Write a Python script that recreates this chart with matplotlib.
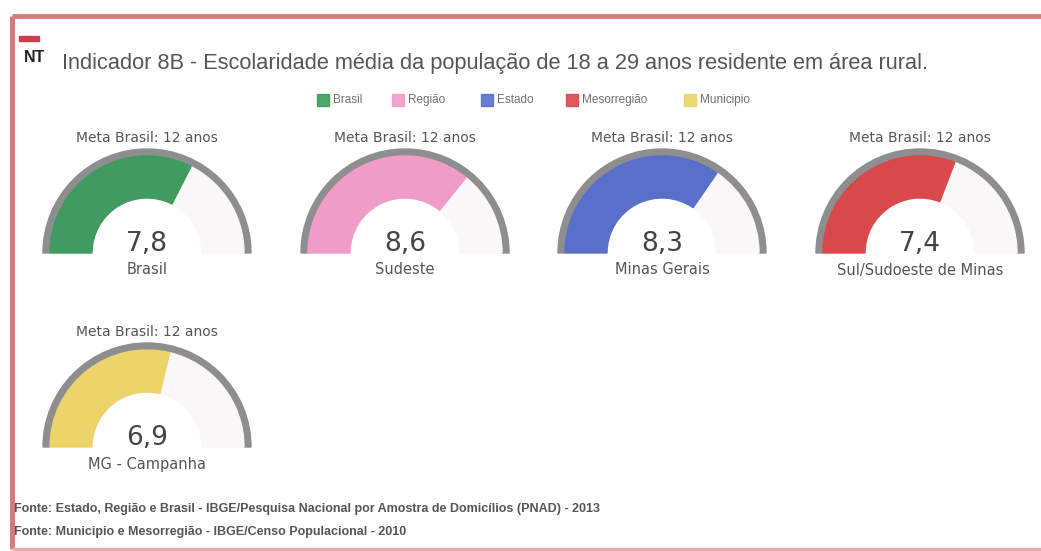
import matplotlib
matplotlib.use("Agg")
import matplotlib.pyplot as plt
from matplotlib.patches import Wedge, Rectangle

# dados
regioes = ["Brasil", "Sudeste", "Minas Gerais", "Sul/Sudoeste de Minas", "MG - Campanha"]
valores = [7.8, 8.6, 8.3, 7.4, 6.9]
cores = ["#3f9b5f", "#f09cc8", "#5a6fc9", "#d9484b", "#ecd46a"]
meta = 12
legenda = ["Brasil", "Região", "Estado", "Mesorregião", "Municipio"]
fontes = ["Fonte: Estado, Região e Brasil - IBGE/Pesquisa Nacional por Amostra de Domicílios (PNAD) - 2013",
          "Fonte: Municipio e Mesorregião - IBGE/Censo Populacional - 2010"]

W, H = 1041, 551
fig = plt.figure(figsize=(W / 100, H / 100), dpi=100)
ax = fig.add_axes([0, 0, 1, 1])
ax.set_xlim(0, W)
ax.set_ylim(0, H)
ax.axis("off")

def Y(y):
    return H - y

# moldura
ax.plot([12, W + 5], [Y(16), Y(16)], color="#d9777f", lw=3.5, solid_capstyle="butt")
ax.plot([12, 12], [Y(16), Y(549)], color="#d9777f", lw=3.5, solid_capstyle="butt")
ax.plot([12, W + 5], [Y(549), Y(549)], color="#e8a7a9", lw=2.5, solid_capstyle="butt")

# titulo
ax.add_patch(Rectangle((19, Y(41)), 20, 5, color="#c9404a"))
ax.text(24, Y(57), "NT", fontsize=11.5, fontweight="bold", color="#222222",
        family="Liberation Sans", va="center", ha="left")
ax.text(62, Y(63), "Indicador 8B - Escolaridade média da população de 18 a 29 anos residente em área rural.",
        fontsize=15.7, color="#555555", family="Liberation Sans", va="center", ha="left")

# legenda
leg_x = [317, 392, 481, 566, 684]
for lx, nome, c in zip(leg_x, legenda, cores):
    ax.add_patch(Rectangle((lx, Y(106)), 12, 12, color=c, alpha=0.9))
    ax.text(lx + 16, Y(100), nome, fontsize=8.5, color="#707070", family="Liberation Sans",
            va="center", ha="left")

# gauges
centros = [(147, 253), (405, 253), (662, 253), (920, 253), (147, 447)]
r_ext = 104
anel = 7
larg = 42
for (cx, cy), nome, v, c in zip(centros, regioes, valores, cores):
    ang = 180 - 180 * v / meta
    ax.add_patch(Wedge((cx, Y(cy)), r_ext, 0, 180, width=anel, color="#8e8e8e"))
    ax.add_patch(Wedge((cx, Y(cy)), r_ext - anel, 0, ang, width=larg, color="#f9f7f8"))
    ax.add_patch(Wedge((cx, Y(cy)), r_ext - anel, ang, 180, width=larg, color=c))
    ax.text(cx, Y(cy - 115), "Meta Brasil: %d anos" % meta, fontsize=10, color="#555555",
            va="center", ha="center")
    ax.text(cx, Y(cy - 9), ("%.1f" % v).replace(".", ","), fontsize=19, color="#444444",
            va="center", ha="center")
    ax.text(cx, Y(cy + 17), nome, fontsize=10.5, color="#555555", va="center", ha="center")

# fontes
ax.text(14, Y(509), fontes[0], fontsize=9, color="#555555", family="Liberation Sans",
        fontweight="bold", va="center", ha="left")
ax.text(14, Y(532), fontes[1], fontsize=9, color="#555555", family="Liberation Sans",
        fontweight="bold", va="center", ha="left")

fig.savefig("out.png", dpi=100, facecolor="white")
